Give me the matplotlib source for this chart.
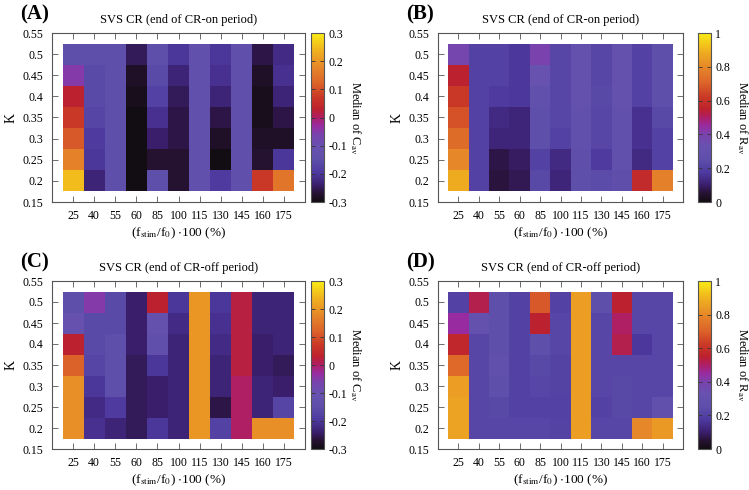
import numpy as np
import matplotlib
matplotlib.use("Agg")
import matplotlib.pyplot as plt
from matplotlib.colors import LinearSegmentedColormap

plt.rcParams['font.family'] = 'Liberation Serif'
plt.rcParams['mathtext.fontset'] = 'stix'

freq_labels = ['25', '40', '55', '60', '85', '100', '115', '130', '145', '160', '175']
k_values = [0.2, 0.25, 0.3, 0.35, 0.4, 0.45, 0.5]

# rows: K = 0.5 (top) ... 0.2 (bottom)
c_on = [
    [-0.15, -0.15, -0.15, -0.25, -0.15, -0.20, -0.13, -0.20, -0.14, -0.26, -0.22],
    [-0.05, -0.16, -0.15, -0.28, -0.16, -0.23, -0.13, -0.21, -0.14, -0.28, -0.21],
    [0.03, -0.16, -0.15, -0.29, -0.18, -0.25, -0.13, -0.23, -0.14, -0.29, -0.23],
    [0.07, -0.17, -0.15, -0.30, -0.21, -0.26, -0.13, -0.26, -0.14, -0.29, -0.26],
    [0.11, -0.19, -0.15, -0.30, -0.24, -0.26, -0.13, -0.28, -0.14, -0.28, -0.28],
    [0.17, -0.20, -0.15, -0.30, -0.27, -0.27, -0.13, -0.30, -0.14, -0.27, -0.20],
    [0.25, -0.23, -0.15, -0.30, -0.15, -0.27, -0.13, -0.19, -0.14, 0.07, 0.15],
]
r_on = [
    [0.38, 0.20, 0.20, 0.17, 0.40, 0.22, 0.30, 0.22, 0.30, 0.20, 0.25],
    [0.55, 0.20, 0.20, 0.17, 0.33, 0.22, 0.30, 0.22, 0.30, 0.20, 0.25],
    [0.62, 0.20, 0.18, 0.17, 0.27, 0.22, 0.30, 0.23, 0.30, 0.20, 0.25],
    [0.67, 0.20, 0.13, 0.12, 0.25, 0.22, 0.28, 0.22, 0.28, 0.15, 0.23],
    [0.73, 0.20, 0.12, 0.12, 0.25, 0.20, 0.27, 0.22, 0.28, 0.15, 0.20],
    [0.80, 0.20, 0.07, 0.09, 0.20, 0.13, 0.26, 0.18, 0.28, 0.13, 0.20],
    [0.88, 0.20, 0.06, 0.08, 0.23, 0.12, 0.25, 0.24, 0.26, 0.58, 0.78],
]
c_off = [
    [-0.15, -0.05, -0.16, -0.24, 0.03, -0.20, 0.20, -0.20, 0.02, -0.23, -0.23],
    [-0.11, -0.16, -0.16, -0.24, -0.12, -0.22, 0.20, -0.21, 0.02, -0.23, -0.23],
    [0.03, -0.16, -0.15, -0.24, -0.14, -0.23, 0.20, -0.22, 0.02, -0.24, -0.23],
    [0.12, -0.17, -0.15, -0.25, -0.20, -0.23, 0.20, -0.23, 0.02, -0.24, -0.25],
    [0.19, -0.20, -0.15, -0.25, -0.24, -0.23, 0.20, -0.23, 0.00, -0.23, -0.24],
    [0.19, -0.22, -0.19, -0.25, -0.24, -0.23, 0.20, -0.26, 0.00, -0.23, -0.17],
    [0.19, -0.21, -0.23, -0.25, -0.20, -0.23, 0.20, -0.18, 0.00, 0.19, 0.19],
]
r_off = [
    [0.20, 0.52, 0.25, 0.20, 0.68, 0.20, 0.85, 0.25, 0.55, 0.22, 0.22],
    [0.45, 0.30, 0.25, 0.20, 0.55, 0.22, 0.85, 0.22, 0.50, 0.22, 0.22],
    [0.57, 0.22, 0.25, 0.20, 0.25, 0.22, 0.85, 0.22, 0.52, 0.17, 0.22],
    [0.72, 0.22, 0.27, 0.20, 0.23, 0.21, 0.85, 0.22, 0.22, 0.22, 0.22],
    [0.85, 0.22, 0.25, 0.20, 0.22, 0.21, 0.85, 0.22, 0.23, 0.22, 0.22],
    [0.86, 0.22, 0.23, 0.20, 0.20, 0.20, 0.85, 0.20, 0.23, 0.22, 0.27],
    [0.86, 0.22, 0.22, 0.22, 0.22, 0.21, 0.85, 0.22, 0.22, 0.80, 0.84],
]

# washed-out gnuplot-like palette
cmap = LinearSegmentedColormap.from_list('gp', [
    (0.00, (0.07, 0.05, 0.07)),
    (0.05, (0.15, 0.07, 0.20)),
    (0.10, (0.23, 0.12, 0.43)),
    (0.17, (0.30, 0.22, 0.62)),
    (0.25, (0.37, 0.31, 0.67)),
    (0.33, (0.41, 0.32, 0.69)),
    (0.40, (0.48, 0.26, 0.68)),
    (0.45, (0.60, 0.17, 0.63)),
    (0.50, (0.68, 0.12, 0.40)),
    (0.55, (0.74, 0.13, 0.18)),
    (0.62, (0.79, 0.22, 0.15)),
    (0.70, (0.86, 0.38, 0.16)),
    (0.80, (0.90, 0.53, 0.16)),
    (0.90, (0.94, 0.70, 0.12)),
    (1.00, (0.98, 0.92, 0.08)),
])

W, H = 749, 490
fig = plt.figure(figsize=(W / 100, H / 100), dpi=100)

panels = [
    ('(A)', 'SVS CR (end of CR-on period)', c_on, (-0.3, 0.3), 'C', (52, 305, 33, 202), (311, 324)),
    ('(B)', 'SVS CR (end of CR-on period)', r_on, (0, 1), 'R', (438, 683, 33, 202), (698, 711)),
    ('(C)', 'SVS CR (end of CR-off period)', c_off, (-0.3, 0.3), 'C', (52, 305, 281, 449), (311, 324)),
    ('(D)', 'SVS CR (end of CR-off period)', r_off, (0, 1), 'R', (438, 683, 281, 449), (698, 711)),
]

edge = '#555555'
for label, title, data, (vmin, vmax), var, (x0, x1, y0, y1), (c0, c1) in panels:
    ax = fig.add_axes([x0 / W, 1 - y1 / H, (x1 - x0) / W, (y1 - y0) / H])
    z = np.array(data)[::-1]
    xe = np.arange(len(freq_labels) + 1) - 0.5
    ye = np.append(np.array(k_values) - 0.025, k_values[-1] + 0.025)
    mesh = ax.pcolormesh(xe, ye, z, cmap=cmap, vmin=vmin, vmax=vmax)
    ax.set_xlim(-1, 11)
    ax.set_ylim(0.15, 0.55)
    ax.set_xticks(range(len(freq_labels)))
    ax.set_xticklabels(freq_labels)
    yt = [0.15, 0.2, 0.25, 0.3, 0.35, 0.4, 0.45, 0.5, 0.55]
    ax.set_yticks(yt)
    ax.set_yticklabels(['0.15', '0.2', '0.25', '0.3', '0.35', '0.4', '0.45', '0.5', '0.55'])
    ax.tick_params(direction='in', top=True, right=True, length=4, width=0.6,
                   color=edge, labelsize=8.5, pad=6)
    for s in ax.spines.values():
        s.set_color(edge)
        s.set_linewidth(0.8)
    ax.set_title(title, fontsize=9, pad=7)
    ax.set_ylabel('K', fontsize=10, labelpad=4)
    ax.set_xlabel(r'(f$_{\rm stim}$/f$_0$) $\cdot$100 (%)', fontsize=9.5, labelpad=2)
    fig.text((x0 - 32) / W, 1 - (y0 - 19) / H, label, fontsize=15, fontweight='bold',
             va='center', ha='left')

    cax = fig.add_axes([c0 / W, 1 - y1 / H, (c1 - c0) / W, (y1 - y0) / H])
    cb = fig.colorbar(mesh, cax=cax)
    if var == 'C':
        ticks = [-0.3, -0.2, -0.1, 0, 0.1, 0.2, 0.3]
        tl = ['-0.3', '-0.2', '-0.1', '0', '0.1', '0.2', '0.3']
    else:
        ticks = [0, 0.2, 0.4, 0.6, 0.8, 1]
        tl = ['0', '0.2', '0.4', '0.6', '0.8', '1']
    cb.set_ticks(ticks)
    cb.set_ticklabels(tl)
    cax.tick_params(direction='in', left=True, right=True, length=3, width=0.6,
                    color='#333333', labelsize=8.5, pad=3)
    cb.outline.set_edgecolor(edge)
    cb.outline.set_linewidth(0.8)
    fig.text((c1 + 31) / W, 1 - (y0 + y1) / 2 / H, r'Median of %s$_{\rm av}$' % var,
             fontsize=9, rotation=-90, ha='center', va='center')

fig.savefig('out.png', dpi=100)
